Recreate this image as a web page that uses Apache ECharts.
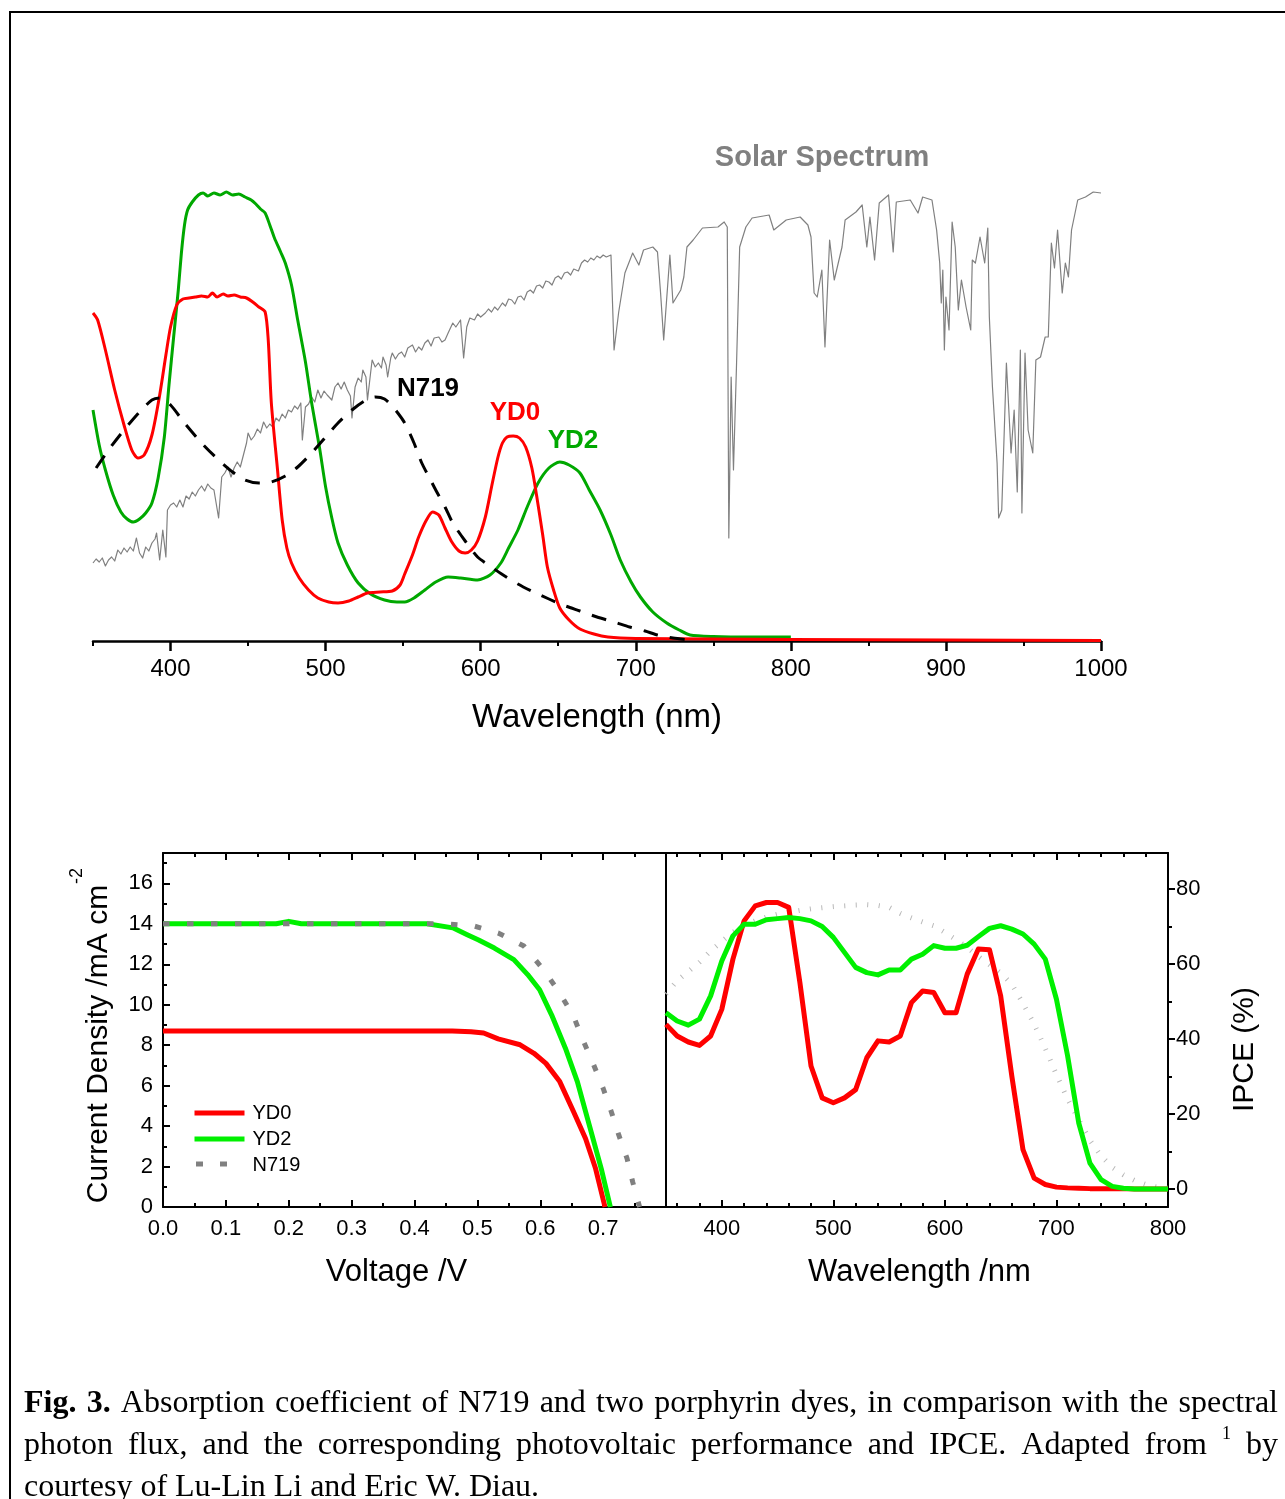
<!DOCTYPE html>
<html><head><meta charset="utf-8">
<script src="https://cdn.jsdelivr.net/npm/echarts@6/dist/echarts.min.js"></script>
<style>html,body{margin:0;padding:0;background:#fff}#c{width:1285px;height:1499px}</style>
</head><body><div id="c"></div><script>
// ---------- Top panel: absorption + solar spectrum (relative units) ----------
const solarNm = [350,352,354,356,358,360,362,364,366,368,370,372,374,376,378,380,382,384,386,388,390,391,393,395,397,398,400,402,404,406,408,410,412,414,416,418,420,422,424,426,428,431,433,435,437,439,441,443,445,447,449,450,452,454,456,458,460,462,464,466,468,470,472,474,476,478,480,482,484,485,487,489,491,493,495,497,499,501,504,506,508,510,512,514,516,517,519,521,523,524,526,527,529,530,532,534,536,537,539,540,542,543,545,547,549,551,553,556,558,560,562,564,566,568,570,573,575,577,579,582,584,587,589,591,593,596,598,600,603,605,607,609,611,614,616,618,620,622,624,626,628,630,632,634,636,638,640,642,644,646,648,650,652,654,656,658,660,661,663,665,667,669,671,673,675,677,679,681,684,686,689,693,698,702,705,711,714,716,718,722,724,729,731,733,737,743,753,757,759,760,761.5,763,765,767,771,775,786,789,797,806,811,813,815,817,820,822,825,828,833,835,842,846,849,851,854,857,863,866,868,877,882,885,891,894,896,897,898,899,900,902,904,906,908,910,913,916,917,919,922,925,927,928,930,933,934,936,939,942,944,946,948,949,951,953,956,958,961,964,966,968,970,972,975,977,979,981,985,990,995,1000];
const solarVal = [15.6,16.4,15.8,16.6,15.0,16.2,16.8,16.0,18.2,17.4,18.6,17.8,18.8,18.0,20.6,17.6,16.6,18.8,18.0,19.6,20.4,21.6,16.2,22.2,16.8,26.2,27.2,27.6,26.8,28.2,26.8,29.0,28.4,29.8,29.0,30.2,31.0,30.0,31.4,30.6,30.2,24.6,32.8,33.6,34.8,32.8,34.6,35.8,34.8,37.2,39.6,41.6,40.2,41.0,42.4,41.6,43.8,42.6,43.4,42.8,44.6,44.0,45.4,44.6,46.2,45.8,47.0,46.4,47.6,40.2,46.8,47.4,48.8,47.8,50.2,48.6,50.0,49.2,48.2,50.8,51.6,50.4,51.8,50.2,49.0,44.6,50.8,52.6,51.8,54.2,52.8,48.2,53.6,56.2,54.8,55.6,54.6,56.8,55.2,52.8,56.6,57.6,56.4,57.4,57.8,56.8,58.6,59.2,57.8,58.8,58.2,59.6,60.2,59.0,60.6,60.8,59.8,60.2,61.6,63.6,62.8,64.2,56.6,62.8,64.6,64.2,65.4,64.8,65.6,66.4,65.8,66.8,66.2,67.6,67.0,68.4,68.2,67.4,68.8,69.0,68.2,69.8,70.2,69.6,71.0,71.2,70.6,72.0,71.8,71.2,72.6,73.0,72.4,73.6,73.8,73.2,74.4,74.6,74.0,75.6,76.2,75.8,76.6,76.2,77.0,76.6,77.2,76.8,77.2,58.2,65.8,73.6,77.6,75.2,78.2,78.8,77.8,69.6,60.2,77.2,67.6,70.2,72.8,78.8,80.2,82.6,82.8,83.8,82.8,20.6,52.8,34.2,55.6,78.8,82.8,84.6,85.2,82.2,84.2,84.8,83.2,80.8,69.6,68.8,74.2,58.8,80.2,72.2,78.8,84.2,85.8,87.2,78.8,84.8,76.2,87.6,89.2,77.8,87.8,88.2,85.6,88.8,88.2,82.2,75.6,67.6,74.2,58.2,68.8,62.2,83.8,78.8,66.2,72.2,66.8,62.2,76.2,75.6,80.8,75.6,82.6,64.8,50.8,35.6,24.6,26.2,55.6,37.6,46.2,29.8,58.2,25.6,57.6,42.2,37.6,56.2,56.8,60.8,60.8,79.6,74.6,82.2,69.6,75.6,72.8,82.2,88.2,88.8,89.8,89.6];

const yd0AbsNm = [350,353,358,364,370,375,379,383,388,393,397,400,404,408,412,416,420,424,427,430,434,437,441,445,449,453,457,461,463,465,469,472,475,478,483,489,495,502,508,515,521,527,535,543,548,551,556,560,565,569,573,577,581,586,590,594,598,603,607,611,614,617,621,625,629,633,636,640,643,647,651,657,664,673,682,700,750,800,900,1000];
const yd0AbsVal = [65.6,64.2,58.2,50.2,43.2,38.2,36.6,37.2,41.2,49.2,57.2,62.8,67.2,68.4,68.6,68.8,69,68.8,69.6,68.8,69.4,69,69.2,68.8,68.6,67.8,66.8,65.8,60.2,47.6,34.2,24.2,18.6,15.6,12.6,10.2,8.6,7.8,7.6,8,8.8,9.6,9.8,10,11.2,13.4,17.2,20.8,24.2,25.8,25.2,22.6,20,18,17.6,18.2,20,24.8,30.8,36.6,39.6,40.8,41,40.6,38.8,34.6,29.2,21.2,14.8,10.2,6.6,4.2,2.4,1.4,0.8,0.5,0.4,0.3,0.2,0.1];

const yd2AbsNm = [350,354,358,363,368,372,376,380,384,388,392,396,399,402,405,407,409,411,414,418,421,424,428,432,436,440,444,448,452,455,458,461,464,467,471,474,478,482,487,491,496,500,504,508,514,521,529,538,546,551,557,564,571,579,587,598,606,613,618,624,630,637,644,651,657,664,670,677,684,690,697,703,711,720,728,735,750,775,800];
const yd2AbsVal = [46.2,39.2,34.2,29.2,25.8,24.4,23.8,24.4,25.6,27.6,32.6,40.8,51.2,60.8,70.2,77.6,83.2,86.2,87.8,89.2,89.6,89,89.6,89.2,89.8,89.2,89.4,88.8,88.2,87.4,86.4,85.6,83.2,80.6,77.8,75.6,71.2,64.2,55.8,47.6,38.8,30.8,24.6,19.6,15.2,11.6,9.4,8.2,7.8,7.8,8.6,10.2,11.8,12.8,12.6,12.2,13.2,15.6,18.6,22.2,26.8,31.6,34.6,35.8,35.2,33.6,30.2,26.2,21.2,16.2,11.8,8.8,5.8,3.6,2.2,1.2,0.9,0.8,0.8];

const n719AbsNm = [352,360,370,380,388,393,400,409,420,431,440,448,457,465,474,482,491,500,508,517,525,532,538,544,551,557,562,567,571,577,582,590,598,606,613,624,634,644,653,664,675,686,696,706,714,724,735];
const n719AbsVal = [34.6,38.2,42.2,45.8,48.2,48.6,47.2,43.6,39.6,36.2,33.8,32.2,31.6,31.8,33,34.8,37.6,40.8,43.6,46.2,48,48.8,48.4,46.6,43.6,39.6,35.6,32.6,30.2,26.8,23.6,20,16.8,15.0,13.5,11.4,9.8,8.4,7.2,6,4.8,3.8,2.8,2,1.2,0.6,0.2];

const absMajorTicks = [400,500,600,700,800,900,1000];
const absMinorTicks = [350,450,550,650,750,850,950];

// ---------- J-V curves ----------
const yd0JvV = [0,0.1,0.2,0.3,0.4,0.46,0.49,0.51,0.533,0.568,0.59,0.609,0.631,0.653,0.672,0.688,0.703];
const yd0JvJ = [8.7,8.7,8.7,8.7,8.7,8.7,8.66,8.6,8.31,8.02,7.6,7.1,6.2,4.71,3.39,1.9,0];
const yd2JvV = [0,0.18,0.2,0.22,0.42,0.461,0.483,0.502,0.527,0.558,0.58,0.599,0.618,0.64,0.659,0.678,0.697,0.7115];
const yd2JvJ = [14.0,14.0,14.12,14.0,14.0,13.8,13.47,13.2,12.8,12.23,11.49,10.74,9.5,7.85,6.2,4.05,1.9,0];
const n719JvV = [0,0.45,0.496,0.533,0.574,0.605,0.631,0.653,0.669,0.684,0.7,0.713,0.725,0.738,0.747,0.758];
const n719JvJ = [14.0,14.0,13.88,13.55,12.9,11.74,10.58,9.42,8.18,7.1,5.87,4.71,3.55,2.4,1.24,0];

const jvMajorX = [0,0.1,0.2,0.3,0.4,0.5,0.6,0.7,0.8];
const jvMinorX = [0.05,0.15,0.25,0.35,0.45,0.55,0.65,0.75];
const jvLabelX = [0,0.1,0.2,0.3,0.4,0.5,0.6,0.7];
const jvMajorY = [0,2,4,6,8,10,12,14,16];
const jvMinorY = [1,3,5,7,9,11,13,15,17];

// ---------- IPCE ----------
const ipceNm = [350,360,370,380,390,400,410,420,430,440,450,460,470,480,490,500,510,520,530,540,550,560,570,580,590,600,610,620,630,640,650,660,670,680,690,700,710,720,730,740,750,760,770,780,790,800];
const ipceYD0 = [43.9,40.8,39.2,38.3,40.8,47.9,61.3,71.5,75.5,76.4,76.4,75.1,55.1,32.8,24.3,23.0,24.3,26.5,35.0,39.5,39.2,40.8,49.7,52.8,52.4,47.0,47.0,57.3,64.0,63.8,51.5,30.1,10.5,2.9,1.2,0.5,0.3,0.2,0.1,0.1,0.1,0.1,0,0,0,0];
const ipceYD2 = [47.0,44.8,43.7,45.3,51.5,60.8,67.5,70.6,70.6,71.8,72.1,72.4,72.1,71.5,70.0,67.1,63.1,59.1,57.7,57.1,58.4,58.4,61.3,62.6,64.9,64.2,64.2,65.0,67.3,69.5,70.2,69.3,68.0,65.3,61.3,50.6,35.5,17.6,6.9,2.5,0.7,0.2,0,0,0,0];
const ipceN719 = [52,55.5,58,60.5,63.5,66,68.5,70.3,71.5,72.5,73.3,73.8,74.3,74.7,75.0,75.3,75.5,75.7,75.8,75.6,75.1,73.5,72.3,71.2,70.2,68.4,66.5,64.4,62.0,59.8,57.6,54.6,49.5,44.0,37.5,30.5,24.0,18.5,13.0,8.8,5.8,3.8,2.3,1.2,0.5,0.2];

const ipceMajorX = [400,500,600,700,800];
const ipceMinorX = [360,380,420,440,460,480,520,540,560,580,620,640,660,680,720,740,760,780];
const ipceMajorY = [0,20,40,60,80];
const ipceMinorY = [10,30,50,70];

// ---------- helpers ----------
const F = "'Liberation Sans', Arial, sans-serif";
const SERIF = "'Liberation Serif', 'Times New Roman', serif";
const pairs = (xs, ys) => xs.map((x, i) => [x, ys[i]]);
const BLK = '#000';
const RED = '#ff0000';
const GREEN_TOP = '#00a800';
const GREEN_BOT = '#00f000';
const GRAY = '#808080';

function axisBase(extra) {
  return Object.assign({
    type: 'value', splitLine: { show: false },
    axisLine: { show: true, onZero: false, lineStyle: { color: BLK, width: 2 } },
    axisTick: { show: false }, axisLabel: { show: false }
  }, extra);
}
function tickAxis(extra, ticks, len, inside) {
  return axisBase(Object.assign({
    axisLine: { show: false, onZero: false },
    axisTick: { show: true, customValues: ticks, length: len, inside: inside, lineStyle: { color: BLK, width: 2 } },
    axisLabel: { show: false }
  }, extra));
}

const xAxes = [
  axisBase({ gridIndex: 0, position: 'bottom', min: 350, max: 1000,
    axisLine: { show: true, onZero: false, lineStyle: { color: BLK, width: 2.5 } },
    axisTick: { show: true, customValues: absMajorTicks, length: 10, lineStyle: { color: BLK, width: 2.5 } },
    axisLabel: { show: true, customValues: absMajorTicks, fontSize: 24, color: BLK, fontFamily: F, margin: 16,
      formatter: v => String(v) },
    name: 'Wavelength (nm)', nameLocation: 'middle', nameGap: 60,
    nameTextStyle: { fontSize: 33, color: BLK, fontFamily: F } }),
  tickAxis({ gridIndex: 0, position: 'bottom', min: 350, max: 1000 }, absMinorTicks, 5, false),
  axisBase({ gridIndex: 1, position: 'bottom', min: 0, max: 0.8,
    axisTick: { show: true, customValues: jvMajorX, length: 7, inside: true, lineStyle: { color: BLK, width: 2 } },
    axisLabel: { show: true, customValues: jvLabelX, fontSize: 22, color: BLK, fontFamily: F, margin: 11,
      formatter: v => v.toFixed(1) },
    name: 'Voltage /V', nameLocation: 'middle', nameGap: 50,
    nameTextStyle: { fontSize: 31, color: BLK, fontFamily: F, padding: [0, 36, 0, 0] } }),
  tickAxis({ gridIndex: 1, position: 'bottom', min: 0, max: 0.8 }, jvMinorX, 4, true),
  axisBase({ gridIndex: 1, position: 'top', min: 0, max: 0.8,
    axisTick: { show: true, customValues: jvMajorX, length: 7, inside: true, lineStyle: { color: BLK, width: 2 } } }),
  tickAxis({ gridIndex: 1, position: 'top', min: 0, max: 0.8 }, jvMinorX, 4, true),
  axisBase({ gridIndex: 2, position: 'bottom', min: 350, max: 800,
    axisTick: { show: true, customValues: ipceMajorX, length: 7, inside: true, lineStyle: { color: BLK, width: 2 } },
    axisLabel: { show: true, customValues: ipceMajorX, fontSize: 22, color: BLK, fontFamily: F, margin: 11 },
    name: 'Wavelength /nm', nameLocation: 'middle', nameGap: 50,
    nameTextStyle: { fontSize: 31, color: BLK, fontFamily: F, padding: [0, 0, 0, 5] } }),
  tickAxis({ gridIndex: 2, position: 'bottom', min: 350, max: 800 }, ipceMinorX, 4, true),
  axisBase({ gridIndex: 2, position: 'top', min: 350, max: 800,
    axisTick: { show: true, customValues: ipceMajorX, length: 7, inside: true, lineStyle: { color: BLK, width: 2 } } }),
  tickAxis({ gridIndex: 2, position: 'top', min: 350, max: 800 }, ipceMinorX, 4, true)
];

const yAxes = [
  { type: 'value', gridIndex: 0, min: 0, max: 100, show: false },
  axisBase({ gridIndex: 1, position: 'left', min: 0, max: 17.5,
    axisTick: { show: true, customValues: jvMajorY, length: 7, inside: true, lineStyle: { color: BLK, width: 2 } },
    axisLabel: { show: true, customValues: jvMajorY, fontSize: 22, color: BLK, fontFamily: F, margin: 10 },
    name: 'Current Density /mA cm', nameLocation: 'middle', nameGap: 49,
    nameTextStyle: { fontSize: 30, color: BLK, fontFamily: F, padding: [0, 28, 0, 0] } }),
  tickAxis({ gridIndex: 1, position: 'left', min: 0, max: 17.5 }, jvMinorY, 4, true),
  axisBase({ gridIndex: 1, position: 'right', min: 0, max: 17.5 }),
  axisBase({ gridIndex: 2, position: 'right', min: -4.8, max: 89.6,
    axisTick: { show: true, customValues: ipceMajorY, length: 7, inside: false, lineStyle: { color: BLK, width: 2 } },
    axisLabel: { show: true, customValues: ipceMajorY, fontSize: 22, color: BLK, fontFamily: F, margin: 8 },
    name: 'IPCE (%)', nameLocation: 'middle', nameGap: 62,
    nameTextStyle: { fontSize: 30, color: BLK, fontFamily: F, padding: [0, 39, 0, 0] } }),
  tickAxis({ gridIndex: 2, position: 'right', min: -4.8, max: 89.6 }, ipceMinorY, 4, false)
];

function line(name, data, xi, yi, color, width, type, extra) {
  return Object.assign({
    type: 'line', name, data, xAxisIndex: xi, yAxisIndex: yi,
    symbol: 'none', showSymbol: false, silent: true, animation: false,
    lineStyle: { color, width, type: type || 'solid', cap: 'butt', join: 'round' },
    itemStyle: { color }
  }, extra || {});
}

const series = [
  line('Solar spectrum', pairs(solarNm, solarVal), 0, 0, GRAY, 1.2, 'solid', { z: 2 }),
  line('YD2 absorption', pairs(yd2AbsNm, yd2AbsVal), 0, 0, GREEN_TOP, 3, 'solid', { smooth: 0.25, z: 3 }),
  line('YD0 absorption', pairs(yd0AbsNm, yd0AbsVal), 0, 0, RED, 3, 'solid', { smooth: 0.25, z: 4 }),
  line('N719 absorption', pairs(n719AbsNm, n719AbsVal), 0, 0, BLK, 3, [15, 12], { smooth: 0.25, z: 5 }),

  line('YD0', pairs(yd0JvV, yd0JvJ), 2, 1, RED, 5, 'solid', { z: 3 }),
  line('YD2', pairs(yd2JvV, yd2JvJ), 2, 1, GREEN_BOT, 5, 'solid', { z: 4 }),
  line('N719', pairs(n719JvV, n719JvJ), 2, 1, GRAY, 5, [6.5, 17.5], { z: 5 }),

  line('N719 IPCE', pairs(ipceNm, ipceN719), 6, 4, '#b8b8b8', 5, [1, 10.5], { z: 2 }),
  line('YD0 IPCE', pairs(ipceNm, ipceYD0), 6, 4, RED, 5, 'solid', { z: 3 }),
  line('YD2 IPCE', pairs(ipceNm, ipceYD2), 6, 4, GREEN_BOT, 5, 'solid', { z: 4 })
];

// ---------- caption (justified) ----------
const ctx = document.createElement('canvas').getContext('2d');
const capFonts = { n: '32px ' + SERIF, b: 'bold 32px ' + SERIF, sup: '18px ' + SERIF };
function tw(t, f) { ctx.font = f; return ctx.measureText(t).width; }
const capLines = [
  { y: 1404, justify: true, words: [['Fig.', 'b'], ['3.', 'b'], ['Absorption'], ['coefficient'], ['of'], ['N719'], ['and'], ['two'], ['porphyrin'], ['dyes,'], ['in'], ['comparison'], ['with'], ['the'], ['spectral']] },
  { y: 1446, justify: true, words: [['photon'], ['flux,'], ['and'], ['the'], ['corresponding'], ['photovoltaic'], ['performance'], ['and'], ['IPCE.'], ['Adapted'], ['from'], ['1', 'sup'], ['by']] },
  { y: 1488, justify: false, words: [['courtesy'], ['of'], ['Lu-Lin'], ['Li'], ['and'], ['Eric'], ['W.'], ['Diau.']] }
];
const capLeft = 24, capRight = 1278;
const graphics = [];
capLines.forEach(L => {
  const ws = L.words.map(w => ({ t: w[0], s: w[1] || 'n' }));
  ws.forEach(w => { w.w = tw(w.t, capFonts[w.s]); });
  const total = ws.reduce((a, w) => a + w.w, 0);
  const gap = L.justify ? (capRight - capLeft - total) / (ws.length - 1) : tw(' ', capFonts.n);
  let x = capLeft;
  ws.forEach(w => {
    graphics.push({ type: 'text', x: x, y: L.y + (w.s === 'sup' ? -12 : 0), silent: true,
      style: { text: w.t, font: capFonts[w.s], fill: BLK, align: 'left', verticalAlign: 'middle' } });
    x += w.w + gap;
  });
});
// frame
graphics.push({ type: 'polyline', silent: true, shape: { points: [[10, 1520], [10, 12], [1300, 12]] },
  style: { stroke: BLK, lineWidth: 2, fill: null } });
// superscript of the J-V axis title
graphics.push({ type: 'text', x: 77, y: 876, rotation: Math.PI / 2, silent: true,
  style: { text: '-2', font: '18px ' + F, fill: BLK, align: 'center', verticalAlign: 'middle' } });
// legend key for the dotted N719 J-V line (two square dots)
[196, 220].forEach(x0 => graphics.push({ type: 'rect', silent: true, z: 100,
  shape: { x: x0, y: 1161.5, width: 7, height: 5 }, style: { fill: GRAY } }));
// top-panel annotations
const ann = [
  ['Solar Spectrum', 822, 158, GRAY, 29],
  ['N719', 428, 389, BLK, 26],
  ['YD0', 515, 413, RED, 26],
  ['YD2', 573, 441, GREEN_TOP, 26]
];
ann.forEach(a => graphics.push({ type: 'text', x: a[1], y: a[2], silent: true,
  style: { text: a[0], font: 'bold ' + a[4] + 'px ' + F, fill: a[3], align: 'center', verticalAlign: 'middle' } }));

const option = {
  animation: false,
  backgroundColor: '#fff',
  textStyle: { fontFamily: F },
  grid: [
    { left: 93, right: 184, top: 141, height: 500, outerBoundsMode: 'none', containLabel: false },
    { left: 163, top: 853, width: 503, height: 354, outerBoundsMode: 'none', containLabel: false },
    { left: 666, top: 853, width: 502, height: 354, outerBoundsMode: 'none', containLabel: false }
  ],
  legend: {
    data: [
      { name: 'YD0' },
      { name: 'YD2' },
      { name: 'N719', lineStyle: { opacity: 0 } }
    ],
    orient: 'vertical', left: 187, top: 1098,
    itemWidth: 50, itemHeight: 14, itemGap: 6, selectedMode: false, padding: 5,
    textStyle: { fontSize: 20, color: BLK, fontFamily: F, padding: [0, 0, 0, 3] },
    lineStyle: { width: 5 },
    itemStyle: { color: 'rgba(0,0,0,0)', borderWidth: 0, opacity: 0 }
  },
  xAxis: xAxes,
  yAxis: yAxes,
  series: series,
  graphic: graphics
};
const chart = echarts.init(document.getElementById('c'), null, { renderer: 'canvas' });
chart.setOption(option);
</script></body></html>
